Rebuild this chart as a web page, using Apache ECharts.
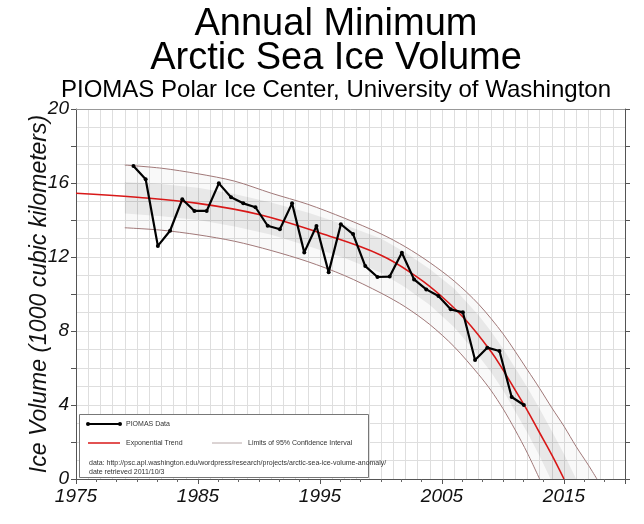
<!DOCTYPE html>
<html><head><meta charset="utf-8">
<script src="https://cdn.jsdelivr.net/npm/echarts@6/dist/echarts.min.js"></script>
<style>html,body{margin:0;padding:0;background:#fff}#c{width:644px;height:524px}</style>
</head><body><div id="c"></div>
<script>
// ---- data ----
const years = [1979,1980,1981,1982,1983,1984,1985,1986,1987,1988,1989,1990,1991,1992,1993,1994,1995,1996,1997,1998,1999,2000,2001,2002,2003,2004,2005,2006,2007,2008,2009,2010,2011];
const volume = [16.92,16.20,12.60,13.42,15.12,14.49,14.49,15.98,15.23,14.90,14.69,13.69,13.50,14.90,12.25,13.68,11.17,13.77,13.24,11.51,10.92,10.94,12.23,10.79,10.25,9.89,9.17,9.01,6.43,7.10,6.92,4.43,4.00];
const SEPT = 0.71; // annual minimum plotted in mid-September
const trendYears  = [1975,1980,1985,1990,1995,2000,2003,2005,2007,2009,2010,2011,2012,2013,2014,2015];
const trendValues = [15.45,15.23,14.9,14.3,13.3,12.1,10.9,9.85,8.55,6.9,5.9,4.8,3.7,2.5,1.3,0];
const upperYears  = [1979,1982,1985,1988,1991,1994,1997,2000,2002,2004,2006,2008,2010,2012,2013,2014,2015,2016,2017,2017.7];
const upperValues = [16.97,16.8,16.5,16.1,15.45,14.85,14.1,13.25,12.55,11.7,10.7,9.45,7.85,5.9,4.9,3.85,2.85,1.75,0.75,0];
const lowerYears  = [1979,1982,1985,1988,1991,1994,1997,2000,2002,2004,2006,2008,2009,2010,2011,2012,2013];
const lowerValues = [13.58,13.45,13.2,12.85,12.35,11.75,11.0,10.05,9.3,8.35,7.15,5.65,4.8,3.8,2.65,1.4,0];
const bandHighYears  = [1979,1982,1985,1988,1991,1994,1997,2000,2002,2004,2006,2008,2009,2010,2011,2012,2013,2014,2015,2016];
const bandHighValues = [16.05,15.95,15.75,15.4,14.95,14.4,13.75,13.0,12.25,11.35,10.3,8.85,8.0,7.05,6.0,4.95,3.8,2.6,1.35,0];
const bandLowYears   = [1979,1982,1985,1988,1991,1994,1997,2000,2002,2004,2006,2008,2009,2010,2011,2012,2013,2013.9];
const bandLowValues  = [14.35,14.2,14.0,13.65,13.2,12.6,11.95,11.15,10.35,9.4,8.2,6.65,5.8,4.8,3.65,2.5,1.25,0];
const xTickLabels = ['1975','1985','1995','2005','2015'];
const yTickLabels = ['0','4','8','12','16','20'];

const FONT = "'Liberation Sans', Arial, sans-serif";
const zip = (a, b) => a.map((v, i) => [v, b[i]]);
const dataPts = years.map((y, i) => [y + SEPT, volume[i]]);
const bandHigh = zip(bandHighYears, bandHighValues);
const bandLow = zip(bandLowYears, bandLowValues);
const upper = zip(upperYears, upperValues);
const lower = zip(lowerYears, lowerValues);

function polygonSeries(top, bottom, fill, z) {
  return {
    type: 'custom', xAxisIndex: 0, yAxisIndex: 0, silent: true, z: z, data: [0],
    renderItem: function (params, api) {
      const pts = top.map(p => api.coord(p)).concat(bottom.slice().reverse().map(p => api.coord(p)));
      return {type: 'polygon', shape: {points: pts}, style: {fill: fill}};
    }
  };
}

const chart = echarts.init(document.getElementById('c'), null, {renderer: 'canvas'});
const gridC = '#dedede';
const option = {
  backgroundColor: '#fff',
  animation: false,
  grid: {left: 76, right: 19, top: 109, bottom: 45},
  xAxis: [{
    type: 'value', min: 1975, max: 2020, interval: 10, position: 'bottom',
    axisLine: {show: true, onZero: false, lineStyle: {color: '#555', width: 1}},
    axisTick: {show: true, length: 5, lineStyle: {color: '#555'}},
    minorTick: {show: true, splitNumber: 6, length: 3, lineStyle: {color: '#666'}},
    splitLine: {show: false},
    axisLabel: {
      margin: 8, fontFamily: FONT, fontSize: 19, fontStyle: 'italic', color: '#111',
      formatter: v => xTickLabels.includes(String(v)) ? String(v) : ''
    }
  }, {
    type: 'value', min: 1975, max: 2020, interval: 1, position: 'top',
    axisLine: {show: true, onZero: false, lineStyle: {color: '#999', width: 1}},
    axisTick: {show: false}, axisLabel: {show: false},
    splitLine: {show: true, lineStyle: {color: gridC, width: 1}}
  }],
  yAxis: [{
    type: 'value', min: 0, max: 20, interval: 2, position: 'left',
    name: 'Ice Volume (1000 cubic kilometers)', nameLocation: 'middle', nameGap: 25,
    nameMoveOverlap: false,
    nameTextStyle: {fontFamily: FONT, fontSize: 23, fontStyle: 'italic', color: '#111'},
    axisLine: {show: true, onZero: false, lineStyle: {color: '#555', width: 1}},
    axisTick: {show: true, length: 5, lineStyle: {color: '#555'}},
    splitLine: {show: true, lineStyle: {color: gridC, width: 1}},
    minorTick: {show: false, splitNumber: 2},
    minorSplitLine: {show: true, lineStyle: {color: gridC, width: 1}},
    axisLabel: {
      margin: 7, fontFamily: FONT, fontSize: 19, fontStyle: 'italic', color: '#111',
      formatter: v => yTickLabels.includes(String(v)) ? String(v) : ''
    }
  }, {
    type: 'value', min: 0, max: 20, interval: 2, position: 'right',
    axisLine: {show: true, onZero: false, lineStyle: {color: '#555', width: 1}},
    axisTick: {show: true, length: 5, lineStyle: {color: '#555'}},
    splitLine: {show: false}, axisLabel: {show: false}
  }],
  series: [
    polygonSeries(upper, lower, 'rgba(0,0,0,0.022)', 1),
    polygonSeries(bandHigh, bandLow, 'rgba(0,0,0,0.065)', 2),
    {
      name: 'upper', type: 'line', xAxisIndex: 0, yAxisIndex: 0, data: upper, smooth: 0.3,
      showSymbol: false, lineStyle: {color: '#a07878', width: 1}, z: 3
    }, {
      name: 'lower', type: 'line', xAxisIndex: 0, yAxisIndex: 0, data: lower, smooth: 0.3,
      showSymbol: false, lineStyle: {color: '#a07878', width: 1}, z: 3
    }, {
      name: 'trend', type: 'line', xAxisIndex: 0, yAxisIndex: 0,
      data: zip(trendYears, trendValues), smooth: 0.4,
      showSymbol: false, lineStyle: {color: '#d81818', width: 1.6}, z: 4
    }, {
      name: 'PIOMAS Data', type: 'line', xAxisIndex: 0, yAxisIndex: 0, data: dataPts,
      symbol: 'circle', symbolSize: 4, itemStyle: {color: '#000'},
      lineStyle: {color: '#000', width: 2.2}, z: 5
    }
  ],
  graphic: [
    {type: 'text', x: 336, y: 25, style: {text: 'Annual Minimum', font: "38px " + FONT, fill: '#000', align: 'center', verticalAlign: 'middle'}},
    {type: 'text', x: 336, y: 59, style: {text: 'Arctic Sea Ice Volume', font: "38px " + FONT, fill: '#000', align: 'center', verticalAlign: 'middle'}},
    {type: 'text', x: 336, y: 90, style: {text: 'PIOMAS Polar Ice Center, University of Washington', font: "24px " + FONT, fill: '#000', align: 'center', verticalAlign: 'middle'}},
    {type: 'rect', shape: {x: 79.5, y: 414.5, width: 289, height: 63}, style: {fill: '#fff', stroke: '#777', lineWidth: 1}, z: 20},
    {type: 'line', shape: {x1: 88, y1: 424, x2: 120, y2: 424}, style: {stroke: '#000', lineWidth: 2}, z: 21},
    {type: 'circle', shape: {cx: 88, cy: 424, r: 2}, style: {fill: '#000'}, z: 21},
    {type: 'circle', shape: {cx: 120, cy: 424, r: 2}, style: {fill: '#000'}, z: 21},
    {type: 'text', x: 126, y: 424, style: {text: 'PIOMAS Data', font: "7px " + FONT, fill: '#333', verticalAlign: 'middle'}, z: 21},
    {type: 'line', shape: {x1: 88, y1: 443, x2: 120, y2: 443}, style: {stroke: '#d81818', lineWidth: 1.5}, z: 21},
    {type: 'text', x: 126, y: 443, style: {text: 'Exponential Trend', font: "7px " + FONT, fill: '#333', verticalAlign: 'middle'}, z: 21},
    {type: 'line', shape: {x1: 212, y1: 443, x2: 242, y2: 443}, style: {stroke: '#b8a8a8', lineWidth: 1}, z: 21},
    {type: 'text', x: 248, y: 443, style: {text: 'Limits of 95% Confidence Interval', font: "7px " + FONT, fill: '#333', verticalAlign: 'middle'}, z: 21},
    {type: 'text', x: 89, y: 463, style: {text: 'data: http://psc.apl.washington.edu/wordpress/research/projects/arctic-sea-ice-volume-anomaly/', font: "7px " + FONT, fill: '#333', verticalAlign: 'middle'}, z: 21},
    {type: 'text', x: 89, y: 472, style: {text: 'date retrieved 2011/10/3', font: "7px " + FONT, fill: '#333', verticalAlign: 'middle'}, z: 21}
  ]
};
chart.setOption(option);
</script></body></html>
